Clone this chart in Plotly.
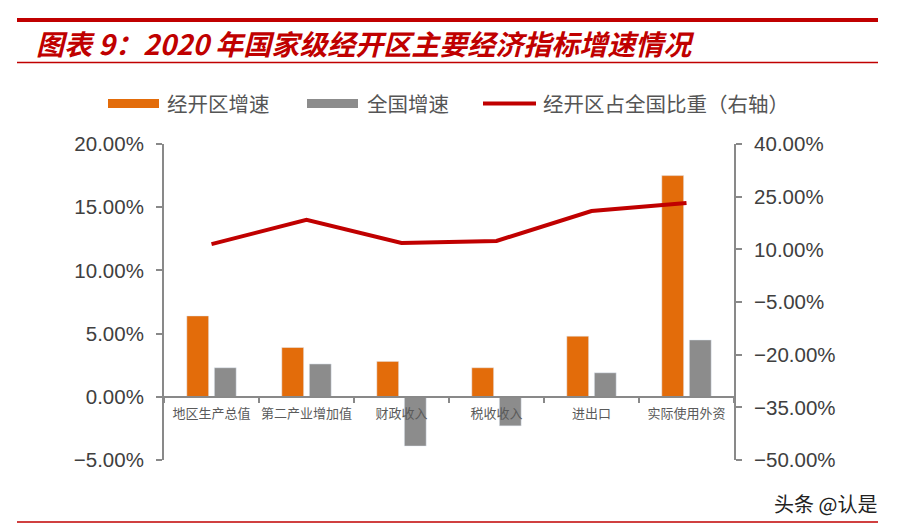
import plotly.graph_objects as go

# ---- data ----
categories = ["地区生产总值", "第二产业增加值", "财政收入", "税收收入", "进出口", "实际使用外资"]
zone_growth = [6.4, 3.9, 2.8, 2.3, 4.8, 17.5]        # 经开区增速 (%)
national_growth = [2.3, 2.6, -3.9, -2.3, 1.9, 4.5]   # 全国增速 (%)
zone_share = [11.5, 18.4, 11.8, 12.4, 20.9, 23.2]    # 经开区占全国比重 (%) right axis
series_names = ["经开区增速", "全国增速", "经开区占全国比重（右轴）"]
title_text = "图表 9：2020 年国家级经开区主要经济指标增速情况"
watermark = "头条 @认是"

OFF = 8  # page body margin
W, H = 897 - OFF, 532 - OFF
L, R, T, B = 164 - OFF, 734 - OFF, 144 - OFF, 460 - OFF

def px(x):
    return (x - OFF - L) / (R - L)

def py(y):
    return (B - (y - OFF)) / (B - T)

ORANGE = "#E36C0A"
GRAY = "#8C8C8C"
RED = "#C00000"
AXIS = "#898989"
TXT = "#404040"

fig = go.Figure()
fig.add_trace(go.Bar(x=categories, y=zone_growth, name=series_names[0],
                     marker_color=ORANGE, width=0.23, offset=-0.26))
fig.add_trace(go.Bar(x=categories, y=national_growth, name=series_names[1],
                     marker_color=GRAY, width=0.23, offset=0.03))
fig.add_trace(go.Scatter(x=categories, y=zone_share, name=series_names[2], yaxis="y2",
                         mode="lines", line=dict(color=RED, width=4)))

tickfont = dict(family="Liberation Sans, Arial, sans-serif", size=20.5, color=TXT)

fig.update_layout(
    width=W, height=H,
    margin=dict(l=L, r=W - R, t=T, b=H - B),
    paper_bgcolor="white", plot_bgcolor="white",
    showlegend=False,
    barmode="group",
    xaxis=dict(type="category", range=[-0.5, 5.5], anchor="free", position=0.2,
               showline=True, linecolor=AXIS, linewidth=2, tickangle=0,
               ticks="outside", tickson="boundaries", ticklen=5, tickcolor=AXIS, tickwidth=2,
               ticklabelstandoff=5,
               showgrid=False, zeroline=False,
               tickfont=dict(family="Noto Sans CJK SC", size=13, color="#5a5a5a")),
    yaxis=dict(range=[-5, 20], dtick=5, tick0=0, tickformat=".2f", ticksuffix="%",
               showline=True, linecolor=AXIS, linewidth=2, ticks="outside", ticklen=6,
               ticklabelstandoff=8,
               tickcolor=AXIS, tickwidth=2, showgrid=False, zeroline=False, tickfont=tickfont),
    yaxis2=dict(range=[-50, 40], dtick=15, tick0=-50, tickformat=".2f", ticksuffix="%",
                overlaying="y", side="right", ticklabelstandoff=8,
                showline=True, linecolor=AXIS, linewidth=2, ticks="outside", ticklen=6,
                tickcolor=AXIS, tickwidth=2, showgrid=False, zeroline=False, tickfont=tickfont),
)

shapes = []
# decorative rules
shapes.append(dict(type="line", xref="paper", yref="paper", x0=px(17), x1=px(878), y0=py(20), y1=py(20),
                   line=dict(color=RED, width=4)))
shapes.append(dict(type="line", xref="paper", yref="paper", x0=px(17), x1=px(878), y0=py(62.5), y1=py(62.5),
                   line=dict(color=RED, width=1.5)))
shapes.append(dict(type="line", xref="paper", yref="paper", x0=px(17), x1=px(878), y0=py(522), y1=py(522),
                   line=dict(color=RED, width=1.5)))
# legend swatches
shapes.append(dict(type="rect", xref="paper", yref="paper", x0=px(108), x1=px(159), y0=py(108), y1=py(99),
                   fillcolor=ORANGE, line=dict(width=0)))
shapes.append(dict(type="rect", xref="paper", yref="paper", x0=px(307), x1=px(358), y0=py(108), y1=py(99),
                   fillcolor=GRAY, line=dict(width=0)))
shapes.append(dict(type="line", xref="paper", yref="paper", x0=px(483), x1=px(536), y0=py(103.5), y1=py(103.5),
                   line=dict(color=RED, width=4)))
fig.update_layout(shapes=shapes)

legfont = dict(family="Noto Sans CJK SC", size=20.5, color="#555555")
annotations = [
    dict(text=title_text, xref="paper", yref="paper", x=px(34), y=py(43), xanchor="left", yanchor="middle",
         showarrow=False,
         font=dict(family="Noto Sans CJK SC", size=28, color=RED, weight="bold", style="italic")),
    dict(text=series_names[0], xref="paper", yref="paper", x=px(165), y=py(103), xanchor="left",
         yanchor="middle", showarrow=False, font=legfont),
    dict(text=series_names[1], xref="paper", yref="paper", x=px(365), y=py(103), xanchor="left",
         yanchor="middle", showarrow=False, font=legfont),
    dict(text=series_names[2], xref="paper", yref="paper", x=px(541), y=py(103), xanchor="left",
         yanchor="middle", showarrow=False, font=legfont),
    dict(text=watermark, xref="paper", yref="paper", x=px(879), y=py(503), xanchor="right",
         yanchor="middle", showarrow=False,
         font=dict(family="Noto Sans CJK SC", size=20, color="#222222")),
]
fig.update_layout(annotations=annotations)

fig.write_html("out.html")
